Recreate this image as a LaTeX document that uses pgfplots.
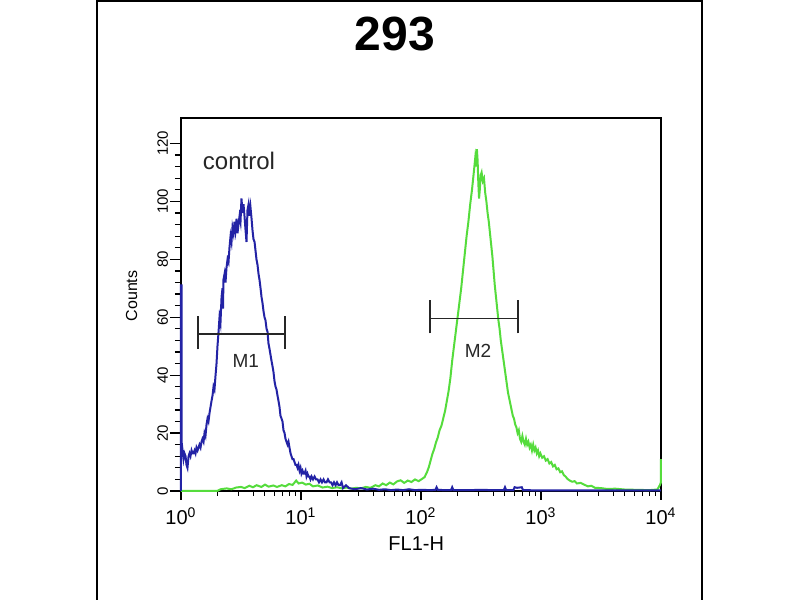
\documentclass[border=0pt]{standalone}
\usepackage{pgfplots}
\pgfplotsset{compat=1.18}
\usepackage{fontspec}
\setmainfont{Liberation Sans}
\definecolor{ctrlblue}{RGB}{35,35,165}
\definecolor{fgreen}{RGB}{85,220,60}
\definecolor{mtext}{RGB}{40,40,40}

\pgfplotstableread{
d y
0 0
0 71
0.005 71
0.005 12
0.013 14
0.021 11
0.029 13
0.038 12
0.046 9
0.054 8
0.063 12
0.071 13
0.079 12
0.088 14
0.096 13
0.104 13
0.113 14
0.121 13
0.129 15
0.138 14
0.146 15
0.154 16
0.163 15
0.171 17
0.179 18
0.188 17
0.196 20
0.204 19
0.213 23
0.221 25
0.229 24
0.238 27
0.246 29
0.254 31
0.263 33
0.271 36
0.279 35
0.288 40
0.296 44
0.304 50
0.313 55
0.321 60
0.329 58
0.338 67
0.346 70
0.350 63
0.354 73
0.363 75
0.371 72
0.379 77
0.388 80
0.396 79
0.404 84
0.413 88
0.421 86
0.429 91
0.438 89
0.446 93
0.454 90
0.463 94
0.471 89
0.479 92
0.488 95
0.496 93
0.504 101
0.513 96
0.521 99
0.529 95
0.538 90
0.546 86
0.554 97
0.563 99
0.571 95
0.579 98
0.588 94
0.596 90
0.604 87
0.613 86
0.621 83
0.629 80
0.638 78
0.646 75
0.654 73
0.663 70
0.671 67
0.679 65
0.688 62
0.696 60
0.704 59
0.713 56
0.721 55
0.729 51
0.738 49
0.746 47
0.754 45
0.763 43
0.771 41
0.779 38
0.788 36
0.796 35
0.804 33
0.813 31
0.821 29
0.829 26
0.838 25
0.846 24
0.854 21
0.863 20
0.871 18
0.879 17
0.888 16
0.896 17
0.904 15
0.913 13
0.921 12
0.929 11
0.938 11
0.946 10
0.954 9
0.963 9
0.971 8
0.979 9
0.988 7
0.996 8
1.004 6
1.013 7
1.021 6
1.029 6
1.038 7
1.046 5
1.054 6
1.063 5
1.071 5
1.079 4
1.088 5
1.100 4
1.113 5
1.125 4
1.138 4
1.150 3
1.163 4
1.175 3
1.188 4
1.200 3
1.213 3
1.225 4
1.238 3
1.250 3
1.263 2
1.275 3
1.288 2
1.300 3
1.313 2
1.325 2
1.338 3
1.350 1
1.375 2
1.400 1
1.45 0.6
1.5 1
1.55 0.5
1.6 0.8
1.65 0.4
1.7 0.6
1.75 0.3
1.8 0.5
1.85 0.3
1.9 0.6
1.95 0.3
2.0 0.4
2.08 0.3
2.12 0.4
2.13 1.3
2.14 0.4
2.2 0.3
2.25 0.3
2.26 1.3
2.27 0.3
2.4 0.3
2.5 0.4
2.6 0.3
2.69 0.3
2.70 1.3
2.71 0.3
2.77 0.3
2.78 1.3
2.80 1.1
2.84 1.3
2.85 0.3
3.0 0.2
3.2 0.2
3.5 0.2
3.8 0.2
4.0 0.2
}\ctrldata

\pgfplotstableread{
d y
0 0
0.3 0
0.33 0.6
0.38 0.9
0.42 0.6
0.46 1.2
0.5 1.4
0.53 1
0.57 1.8
0.6 1.3
0.63 2
0.67 1.4
0.7 2.2
0.73 1.5
0.77 1.9
0.8 1.4
0.84 2
0.87 1.6
0.9 2.4
0.93 2.1
0.96 3.6
0.98 2.6
1.01 2.9
1.04 2.2
1.07 2.5
1.1 1.6
1.14 1.9
1.18 1.2
1.22 1.5
1.26 1
1.3 1.3
1.34 0.9
1.38 1.2
1.42 0.8
1.46 1.1
1.5 0.9
1.54 1.4
1.58 1.1
1.62 2
1.65 1.6
1.68 2.6
1.71 2
1.74 2.9
1.77 2.3
1.8 3.3
1.83 3.7
1.86 2.8
1.89 3.6
1.92 3.1
1.95 4
1.98 3.4
2.01 4.2
2.03 4.8
2.05 6.5
2.065 8.2
2.08 10.5
2.095 12.8
2.11 14.5
2.125 16.8
2.14 18.5
2.155 21
2.17 22.5
2.185 25
2.2 27.5
2.215 31
2.23 34.5
2.245 39
2.26 45
2.275 50
2.29 55
2.305 60
2.32 65
2.335 70
2.35 76
2.365 82
2.38 88
2.395 93
2.41 99
2.425 104
2.44 110
2.452 115
2.46 112
2.466 118
2.472 114
2.478 106
2.484 101
2.49 104
2.497 109
2.505 110
2.515 107
2.525 108
2.535 103
2.545 100
2.555 96
2.565 93
2.575 89
2.585 85
2.595 81
2.605 76
2.615 71
2.625 67
2.635 63
2.645 59
2.655 56
2.665 52
2.675 49
2.685 46
2.695 43
2.705 40
2.715 37
2.725 34
2.735 32
2.745 30
2.755 28
2.765 26
2.775 25
2.785 23
2.795 22
2.805 20
2.815 21
2.825 18
2.835 17
2.845 19
2.855 17
2.865 16
2.875 18
2.885 16
2.895 17
2.905 15
2.915 16
2.925 14
2.935 16
2.945 14
2.955 15
2.965 13
2.975 14
2.985 12
2.995 13
3.01 11.5
3.025 12
3.04 10.5
3.055 11
3.07 9.5
3.085 10
3.1 8.5
3.115 9
3.13 7.5
3.145 7.8
3.16 6.5
3.175 6.8
3.19 5.5
3.205 5
3.22 4.2
3.24 3.6
3.26 3.2
3.28 3.4
3.3 2.6
3.33 2.8
3.36 2.2
3.39 1.6
3.42 1.8
3.45 1.1
3.5 1
3.55 0.7
3.62 0.8
3.7 0.5
3.8 0.4
3.9 0.3
3.97 0.5
3.99 2
4 3
4 11
}\greendata

\begin{document}
\begin{tikzpicture}[x=1pt,y=1pt]
\path[use as bounding box] (0,0) rectangle (400,300);
\fill[white] (0,0) rectangle (400,300);
\draw[line width=1.2pt] (48.5,-1) -- (48.5,299.4) -- (351,299.4) -- (351,-1);
\node[font=\bfseries\fontsize{24}{28}\selectfont] at (197.5,283) {293};
\begin{axis}[
  at={(90.5pt,54.5pt)}, anchor=south west,
  scale only axis, width=240pt, height=186.5pt,
  xmin=0, xmax=4, ymin=0, ymax=128.8,
  clip=false,
  axis line style={black, line width=0.8pt},
  tick pos=left,
  tick align=outside,
  major tick length=5.5pt,
  minor tick length=3pt,
  every tick/.style={black, line width=0.6pt},
  every major x tick/.append style={/pgfplots/major tick length=4.5pt},
  every minor x tick/.append style={/pgfplots/minor tick length=2.5pt},
  xtick={0,1,2,3,4},
  xticklabels={10\textsuperscript{0},10\textsuperscript{1},10\textsuperscript{2},10\textsuperscript{3},10\textsuperscript{4}},
  minor xtick={0.301,0.477,0.602,0.699,0.778,0.845,0.903,0.954,
               1.301,1.477,1.602,1.699,1.778,1.845,1.903,1.954,
               2.301,2.477,2.602,2.699,2.778,2.845,2.903,2.954,
               3.301,3.477,3.602,3.699,3.778,3.845,3.903,3.954},
  ytick={0,20,40,60,80,100,120},
  minor y tick num=4,
  /pgf/number format/assume math mode=true,
  xticklabel style={font=\fontsize{10}{12}\selectfont, inner sep=0.5pt, yshift=-2pt},
  yticklabel style={font=\fontsize{7.5}{9}\selectfont, rotate=90, anchor=south, inner sep=0.8pt},
  xlabel={FL1-H},
  xlabel style={at={(axis description cs:0.49,-0.142)}, anchor=center, font=\fontsize{10}{12}\selectfont},
  ylabel={Counts},
  ylabel style={at={(axis description cs:-0.103,0.523)}, anchor=center, font=\fontsize{8}{9}\selectfont},
]
\addplot[fgreen, line width=1pt] table[x=d, y=y] {\greendata};
\addplot[ctrlblue, line width=1pt] table[x=d, y=y] {\ctrldata};
% M1 marker
\addplot[black!85, line width=0.8pt] coordinates {(0.142,54.3) (0.867,54.3)};
\addplot[black!85, line width=0.8pt] coordinates {(0.142,49.2) (0.142,60.6)};
\addplot[black!85, line width=0.8pt] coordinates {(0.867,49.2) (0.867,60.6)};
% M2 marker
\addplot[black!85, line width=0.8pt] coordinates {(2.075,59.5) (2.808,59.5)};
\addplot[black!85, line width=0.8pt] coordinates {(2.075,54.4) (2.075,65.8)};
\addplot[black!85, line width=0.8pt] coordinates {(2.808,54.4) (2.808,65.8)};
\node[font=\fontsize{9.5}{11}\selectfont, text=mtext] at (axis cs:0.54,45) {M1};
\node[font=\fontsize{9.5}{11}\selectfont, text=mtext] at (axis cs:2.475,48.5) {M2};
\node[anchor=west, font=\fontsize{12}{14}\selectfont, text=black!85, inner sep=0pt] at (axis cs:0.18,114) {control};
\end{axis}
\end{tikzpicture}
\end{document}
